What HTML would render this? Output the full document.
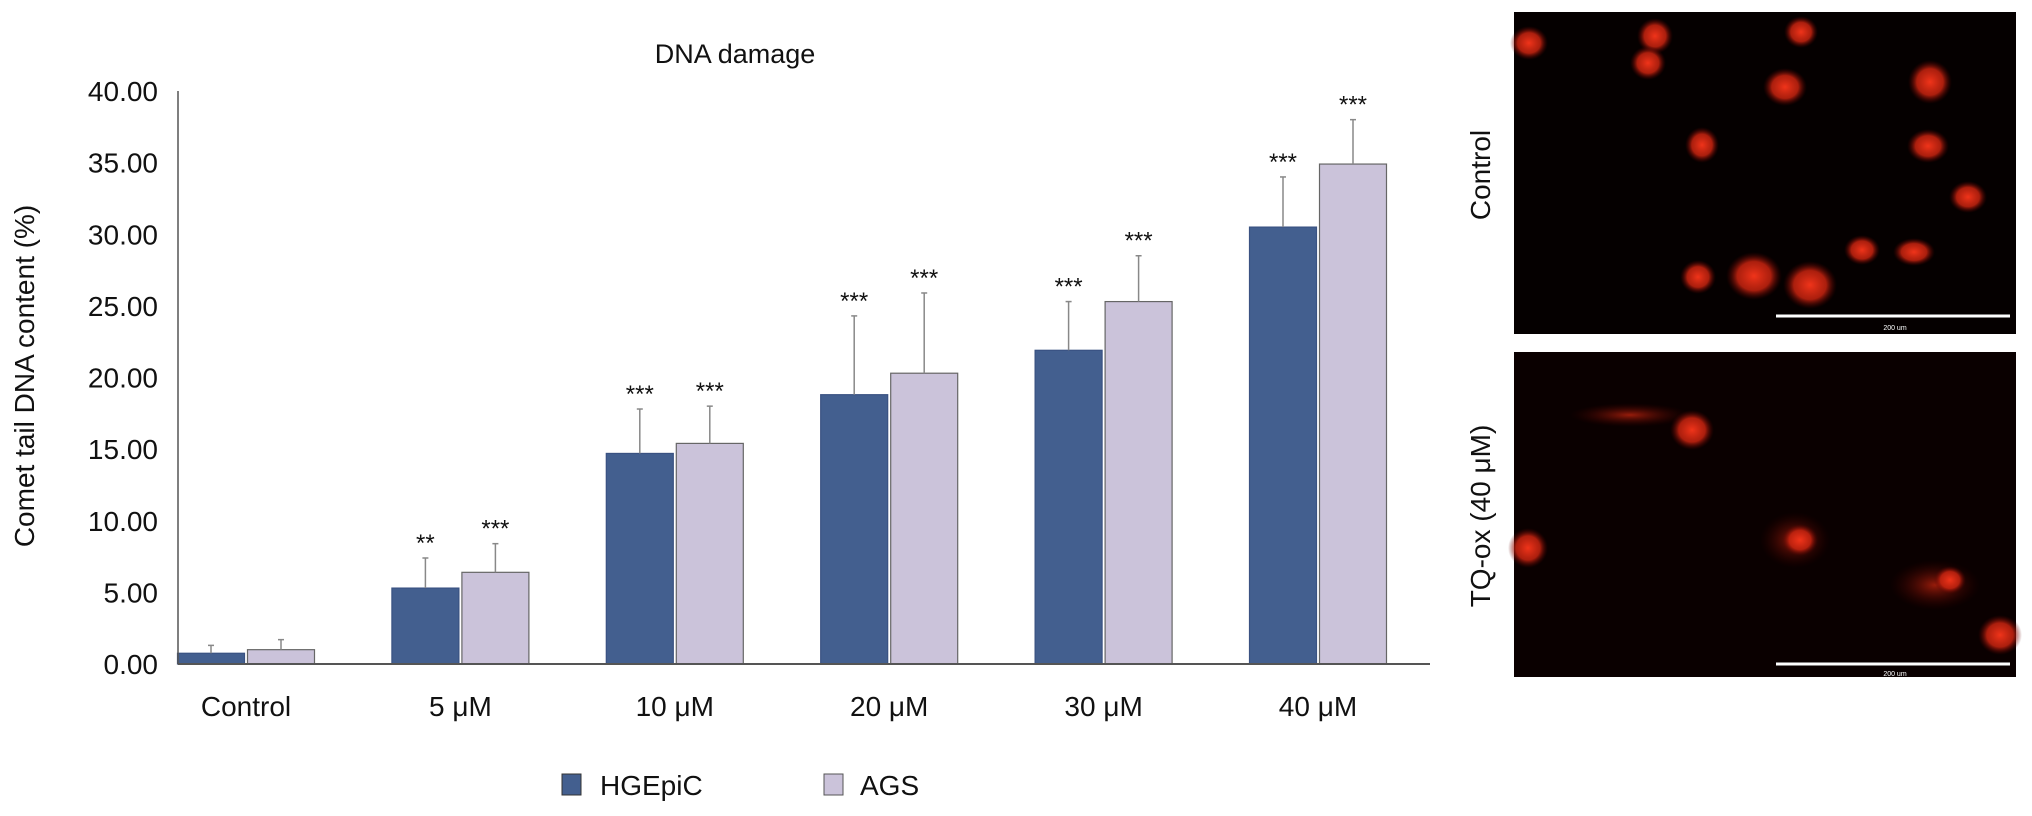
<!DOCTYPE html>
<html><head><meta charset="utf-8"><style>
html,body{margin:0;padding:0;background:#fff;}
svg{display:block;font-family:"Liberation Sans",sans-serif;}
</style></head><body>
<svg id="chart" width="2032" height="816" viewBox="0 0 2032 816" xmlns="http://www.w3.org/2000/svg">
<defs>
<radialGradient id="cell"><stop offset="0" stop-color="#f0341a"/><stop offset="0.6" stop-color="#c82410" stop-opacity="0.85"/><stop offset="1" stop-color="#500" stop-opacity="0"/></radialGradient>
<radialGradient id="cellDim"><stop offset="0" stop-color="#c8260f" stop-opacity="0.75"/><stop offset="1" stop-color="#400" stop-opacity="0"/></radialGradient>
</defs>
<text x="735" y="63" font-size="27" text-anchor="middle" fill="#111">DNA damage</text>
<text transform="translate(34,376) rotate(-90)" font-size="28" text-anchor="middle" fill="#111">Comet tail DNA content (%)</text>
<g id="yticks"></g>
<g id="bars"></g>
<line x1="178" y1="91" x2="178" y2="664" stroke="#555" stroke-width="1.5"/>
<line x1="178" y1="664" x2="1430" y2="664" stroke="#555" stroke-width="2"/>
<g id="xlabels"></g>
<g>
<rect x="562" y="774" width="19" height="21" fill="#435f8f" stroke="#333"/>
<text x="600" y="795" font-size="28" fill="#111">HGEpiC</text>
<rect x="824" y="774" width="19" height="21" fill="#cbc3da" stroke="#555"/>
<text x="860" y="795" font-size="28" fill="#111">AGS</text>
</g>
<text transform="translate(1490,175) rotate(-90)" font-size="28" text-anchor="middle" fill="#111">Control</text>
<text transform="translate(1490,516) rotate(-90)" font-size="28" text-anchor="middle" fill="#111">TQ-ox (40 μM)</text>
<g>
<rect x="1514" y="12" width="502" height="322" fill="#050000"/>
<ellipse cx="1529" cy="43" rx="19" ry="17" fill="url(#cell)"/>
<ellipse cx="1655" cy="36" rx="18" ry="18" fill="url(#cell)"/>
<ellipse cx="1648" cy="63" rx="18" ry="17" fill="url(#cell)"/>
<ellipse cx="1801" cy="32" rx="17" ry="16" fill="url(#cell)"/>
<ellipse cx="1785" cy="87" rx="22" ry="19" fill="url(#cell)"/>
<ellipse cx="1930" cy="82" rx="22" ry="22" fill="url(#cell)"/>
<ellipse cx="1702" cy="145" rx="17" ry="18" fill="url(#cell)"/>
<ellipse cx="1928" cy="146" rx="21" ry="17" fill="url(#cell)"/>
<ellipse cx="1968" cy="197" rx="19" ry="16" fill="url(#cell)"/>
<ellipse cx="1698" cy="277" rx="18" ry="17" fill="url(#cell)"/>
<ellipse cx="1754" cy="276" rx="28" ry="24" fill="url(#cell)"/>
<ellipse cx="1810" cy="285" rx="27" ry="24" fill="url(#cell)"/>
<ellipse cx="1862" cy="250" rx="18" ry="15" fill="url(#cell)"/>
<ellipse cx="1914" cy="252" rx="21" ry="14" fill="url(#cell)"/>
<line x1="1776" y1="316" x2="2010" y2="316" stroke="#fff" stroke-width="3"/>
<text x="1895" y="330" font-size="7" fill="#fff" text-anchor="middle">200 um</text>
</g>
<g>
<rect x="1514" y="352" width="502" height="325" fill="#0a0000"/>
<ellipse cx="1630" cy="415" rx="60" ry="12" fill="url(#cellDim)"/>
<ellipse cx="1692" cy="430" rx="22" ry="20" fill="url(#cell)"/>
<ellipse cx="1528" cy="548" rx="20" ry="20" fill="url(#cell)"/>
<ellipse cx="1795" cy="540" rx="35" ry="28" fill="url(#cellDim)"/>
<ellipse cx="1800" cy="540" rx="18" ry="16" fill="url(#cell)"/>
<ellipse cx="1935" cy="585" rx="45" ry="25" fill="url(#cellDim)"/>
<ellipse cx="1950" cy="580" rx="16" ry="14" fill="url(#cell)"/>
<ellipse cx="2000" cy="635" rx="22" ry="20" fill="url(#cell)"/>
<line x1="1776" y1="664" x2="2010" y2="664" stroke="#fff" stroke-width="3"/>
<text x="1895" y="676" font-size="7" fill="#fff" text-anchor="middle">200 um</text>
</g>
</svg>
<script>
const categories = ["Control","5 μM","10 μM","20 μM","30 μM","40 μM"];
const hgepic = [0.75,5.3,14.7,18.8,21.9,30.5];
const hgepicErr = [0.55,2.1,3.1,5.5,3.4,3.5];
const ags = [1.0,6.4,15.4,20.3,25.3,34.9];
const agsErr = [0.7,2.0,2.6,5.6,3.2,3.1];
const hgepicStars = ["","**","***","***","***","***"];
const agsStars = ["","***","***","***","***","***"];
const yTicks = [0,5,10,15,20,25,30,35,40];
const NS="http://www.w3.org/2000/svg";
const y0=664,y1=91,yMax=40;
function yScale(v){return y0-(v/yMax)*(y0-y1);}
const groupW=214.4, firstCenter=246;
function xCenter(i){return firstCenter+groupW*i;}
const bw=67;
const yt=document.getElementById('yticks');
yTicks.forEach(t=>{
 const e=document.createElementNS(NS,'text');
 
 
 e.setAttribute('x',158);e.setAttribute('y',yScale(t)+10);
 e.setAttribute('font-size','28');e.setAttribute('text-anchor','end');e.setAttribute('fill','#111');
 e.textContent=t.toFixed(2);yt.appendChild(e);
});
const bars=document.getElementById('bars');
function drawBar(i,v,err,star,left,fill,stroke,name){
 const c=xCenter(i);const x=left?c-bw-1.5:c+1.5;
 const r=document.createElementNS(NS,'rect');
 
 
 r.setAttribute('x',x);r.setAttribute('y',yScale(v));r.setAttribute('width',bw);r.setAttribute('height',y0-yScale(v));
 r.setAttribute('fill',fill);r.setAttribute('stroke',stroke);r.setAttribute('stroke-width','1.2');
 bars.appendChild(r);
 const ex=x+bw/2;
 const l=document.createElementNS(NS,'line');
 
 
 l.setAttribute('x1',ex);l.setAttribute('x2',ex);l.setAttribute('y1',yScale(v));l.setAttribute('y2',yScale(v+err));
 l.setAttribute('stroke','#888');l.setAttribute('stroke-width','1.5');bars.appendChild(l);
 const cap=document.createElementNS(NS,'line');
 
 
 cap.setAttribute('x1',ex-3);cap.setAttribute('x2',ex+3);cap.setAttribute('y1',yScale(v+err));cap.setAttribute('y2',yScale(v+err));
 cap.setAttribute('stroke','#888');cap.setAttribute('stroke-width','1.5');bars.appendChild(cap);
 if(star){
  const s=document.createElementNS(NS,'text');
  
  
  s.setAttribute('x',ex);s.setAttribute('y',yScale(v+err)-7);s.setAttribute('font-size','24');
  s.setAttribute('text-anchor','middle');s.setAttribute('fill','#111');s.textContent=star;bars.appendChild(s);
 }
}
categories.forEach((c,i)=>{
 drawBar(i,hgepic[i],hgepicErr[i],hgepicStars[i],true,'#435f8f','#3a5282','bar-hgepic');
 drawBar(i,ags[i],agsErr[i],agsStars[i],false,'#cbc3da','#666','bar-ags');
 const t=document.createElementNS(NS,'text');
 
 
 t.setAttribute('x',xCenter(i));t.setAttribute('y',716);t.setAttribute('font-size','28');
 t.setAttribute('text-anchor','middle');t.setAttribute('fill','#111');t.textContent=c;
 document.getElementById('xlabels').appendChild(t);
});
</script>
</body></html>
